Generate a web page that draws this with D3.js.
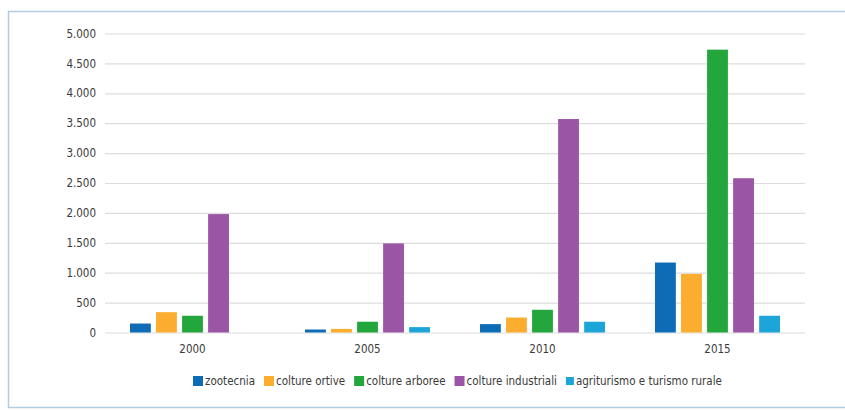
<!DOCTYPE html>
<html><head><meta charset="utf-8">
<script src="https://cdn.jsdelivr.net/npm/d3@7"></script>
<style>
body{margin:0;background:#fff;}
text{font-family:"Liberation Sans Narrow","DejaVu Sans Condensed","Arial Narrow",sans-serif;}
</style></head>
<body><svg id="c" width="845" height="410"></svg>
<script>
const years = ["2000","2005","2010","2015"];
const seriesNames = ["zootecnia","colture ortive","colture arboree","colture industriali","agriturismo e turismo rurale"];
const zootecnia = [150, 50, 140, 1170];
const coltureOrtive = [340, 60, 250, 980];
const coltureArboree = [280, 180, 380, 4730];
const coltureIndustriali = [1980, 1490, 3570, 2580];
const agriturismo = [0, 90, 180, 280];
const yTicks = [0,500,1000,1500,2000,2500,3000,3500,4000,4500,5000];
const colors = ["#0d6cb5","#fbad30","#23a63b","#9a55a5","#1ea5d8"];

const seriesValues = [zootecnia, coltureOrtive, coltureArboree, coltureIndustriali, agriturismo];
const svg = d3.select("#c");
const loc = d3.formatLocale({decimal:",",thousands:".",grouping:[3],currency:["",""]});
const fmt = loc.format(",d");

// frame
svg.append("rect").attr("x",8.5).attr("y",11.5).attr("width",845).attr("height",396)
  .attr("fill","#fff").attr("stroke","#b3cbe3").attr("stroke-width",1.5);

const x0 = d3.scaleBand().domain(years).range([105,805]).paddingInner(0).paddingOuter(0);
const x1 = d3.scaleBand().domain(seriesNames).range([0,x0.bandwidth()]).paddingInner(0.2).paddingOuter(0.96);
const y = d3.scaleLinear().domain([0,5000]).range([332.5,33.5]);

const yAxis = d3.axisLeft(y).tickValues(yTicks).tickFormat(fmt).tickSize(-(805-105)).tickPadding(9);
const ga = svg.append("g").attr("transform","translate(105,0)").call(yAxis);
ga.select(".domain").remove();
ga.selectAll(".tick line").attr("stroke","#dcdcdc").attr("stroke-width",1.2);
ga.selectAll(".tick text").attr("fill","#3a3a3a").attr("font-size",11.5);

const xAxis = d3.axisBottom(x0).tickSize(0).tickPadding(12);
const gx = svg.append("g").attr("transform","translate(0,332.5)").call(xAxis);
gx.select(".domain").remove();
gx.selectAll(".tick text").attr("fill","#3a3a3a").attr("font-size",11.5);

const groups = svg.append("g").selectAll("g").data(years).join("g")
  .attr("transform",d=>`translate(${x0(d)},0)`);
groups.selectAll("rect").data((d,i)=>seriesNames.map((s,j)=>({s,j,v:seriesValues[j][i]})))
  .join("rect")
  .attr("x",d=>x1(d.s)).attr("width",x1.bandwidth())
  .attr("y",d=>y(d.v)).attr("height",d=>y(0)-y(d.v))
  .attr("fill",d=>colors[d.j]);

// legend
const lg = svg.append("g").attr("transform","translate(193,381)");
let lx = 0;
seriesNames.forEach((s,i)=>{
  const g = lg.append("g").attr("transform",`translate(${lx},0)`);
  const sz = i===4 ? 8 : 10;
  g.append("rect").attr("x",0).attr("y",-sz/2).attr("width",sz).attr("height",sz).attr("fill",colors[i]);
  const t = g.append("text").attr("x",sz+2).attr("y",4).attr("font-size",11.5).attr("fill","#3a3a3a").text(s);
  lx += sz + 2 + t.node().getComputedTextLength() + 9;
});
</script></body></html>
